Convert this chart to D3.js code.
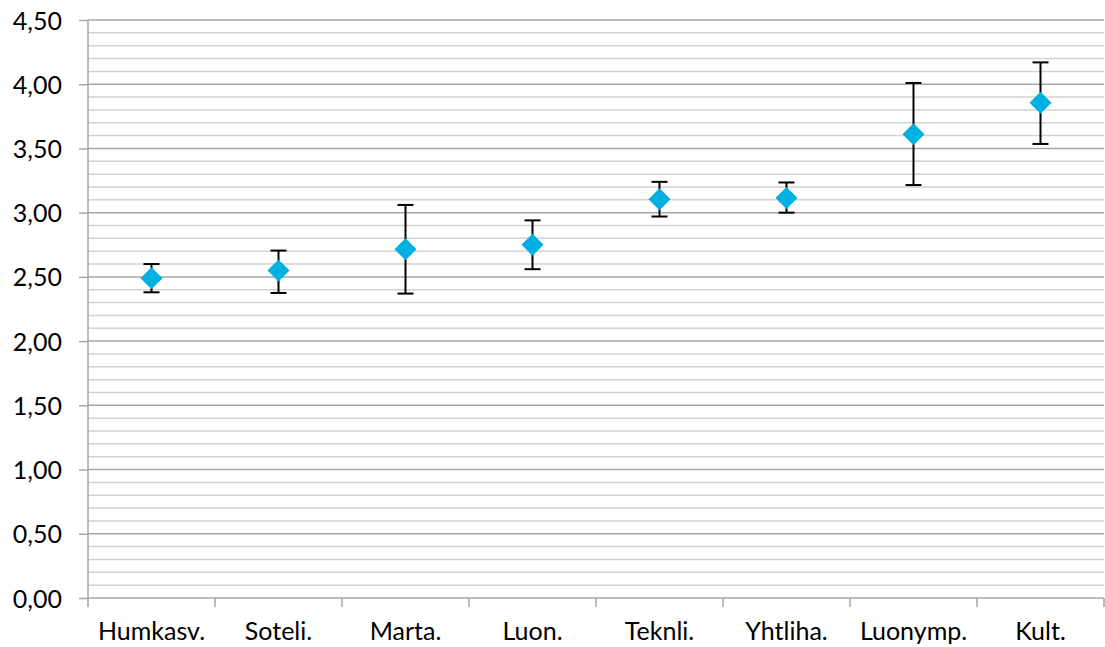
<!DOCTYPE html>
<meta charset="utf-8">
<style>
  body { margin: 0; background: #fff; }
  text { font-family: Lato, "DejaVu Sans", sans-serif; font-size: 25px; fill: #000; }
</style>
<svg width="1105" height="647"></svg>
<script src="https://d3js.org/d3.v7.min.js"></script>
<script>

var categories = ["Humkasv.", "Soteli.", "Marta.", "Luon.", "Teknli.", "Yhtliha.", "Luonymp.", "Kult."];
var means = [2.49, 2.55, 2.715, 2.75, 3.105, 3.115, 3.61, 3.855];
var upper = [2.60, 2.705, 3.06, 2.94, 3.24, 3.235, 4.01, 4.17];
var lower = [2.38, 2.375, 2.37, 2.56, 2.97, 3.00, 3.215, 3.535];
var yTicks = [0, 0.5, 1, 1.5, 2, 2.5, 3, 3.5, 4, 4.5];

var svg = d3.select("svg"),
    margin = {top: 20, right: 1, bottom: 49, left: 88},
    width = +svg.attr("width") - margin.left - margin.right,
    height = +svg.attr("height") - margin.top - margin.bottom;

var g = svg.append("g")
    .attr("transform", "translate(" + margin.left + "," + margin.top + ")");

var x = d3.scaleBand().domain(categories).range([0, width]);
var y = d3.scaleLinear().domain([0, 4.5]).range([height, 0]);

// minor gridlines every 0.1
var minor = d3.range(1, 45).map(function(d) { return d / 10; })
    .filter(function(d) { return Math.round(d * 10) % 5 !== 0; });

g.selectAll(".minor")
  .data(minor)
  .enter().append("line")
    .attr("x1", 0).attr("x2", width)
    .attr("y1", function(d) { return y(d); })
    .attr("y2", function(d) { return y(d); })
    .style("stroke", "#d2d2d2")
    .style("stroke-width", 1.5);

g.selectAll(".major")
  .data(yTicks.slice(1))
  .enter().append("line")
    .attr("x1", 0).attr("x2", width)
    .attr("y1", function(d) { return y(d); })
    .attr("y2", function(d) { return y(d); })
    .style("stroke", "#a6a6a6")
    .style("stroke-width", 1.5);

var fmt = function(d) { return d3.format(".2f")(d).replace(".", ","); };

var yAxis = g.append("g")
    .call(d3.axisLeft(y).tickValues(yTicks).tickFormat(fmt).tickSize(9).tickPadding(17));
yAxis.select(".domain").remove();
yAxis.selectAll("line").style("stroke", "#a6a6a6").style("stroke-width", 1.5);
yAxis.selectAll("text").attr("dy", "0.36em");

g.append("line")
    .attr("x1", 0).attr("x2", 0)
    .attr("y1", 0).attr("y2", height)
    .style("stroke", "#a6a6a6").style("stroke-width", 1.5);

// x axis: ticks at category boundaries
var xAxis = g.append("g").attr("transform", "translate(0," + height + ")");
xAxis.append("line")
    .attr("x1", 0).attr("x2", width)
    .style("stroke", "#a6a6a6").style("stroke-width", 1.5);
var bounds = categories.map(function(c) { return x(c); }).concat([width]);
xAxis.selectAll(".tick")
  .data(bounds)
  .enter().append("line")
    .attr("x1", function(d) { return d; })
    .attr("x2", function(d) { return d; })
    .attr("y1", 0).attr("y2", 9)
    .style("stroke", "#a6a6a6").style("stroke-width", 1.5);
xAxis.selectAll(".lbl")
  .data(categories)
  .enter().append("text")
    .attr("x", function(d) { return x(d) + x.bandwidth() / 2; })
    .attr("y", 42)
    .attr("text-anchor", "middle")
    .text(function(d) { return d; });

// error bars
var cx = function(i) { return x(categories[i]) + x.bandwidth() / 2; };
var bars = g.selectAll(".err")
  .data(means)
  .enter().append("g");
bars.append("line")
    .attr("x1", function(d, i) { return cx(i); })
    .attr("x2", function(d, i) { return cx(i); })
    .attr("y1", function(d, i) { return y(upper[i]); })
    .attr("y2", function(d, i) { return y(lower[i]); });
bars.append("line")
    .attr("x1", function(d, i) { return cx(i) - 8; })
    .attr("x2", function(d, i) { return cx(i) + 8; })
    .attr("y1", function(d, i) { return y(upper[i]); })
    .attr("y2", function(d, i) { return y(upper[i]); });
bars.append("line")
    .attr("x1", function(d, i) { return cx(i) - 8; })
    .attr("x2", function(d, i) { return cx(i) + 8; })
    .attr("y1", function(d, i) { return y(lower[i]); })
    .attr("y2", function(d, i) { return y(lower[i]); });
bars.selectAll("line").style("stroke", "#000").style("stroke-width", 2);

// diamond markers
g.selectAll(".pt")
  .data(means)
  .enter().append("path")
    .attr("d", "M0,-11L11,0L0,11L-11,0Z")
    .attr("transform", function(d, i) { return "translate(" + cx(i) + "," + y(d) + ")"; })
    .style("fill", "#00b0e0");

</script>
